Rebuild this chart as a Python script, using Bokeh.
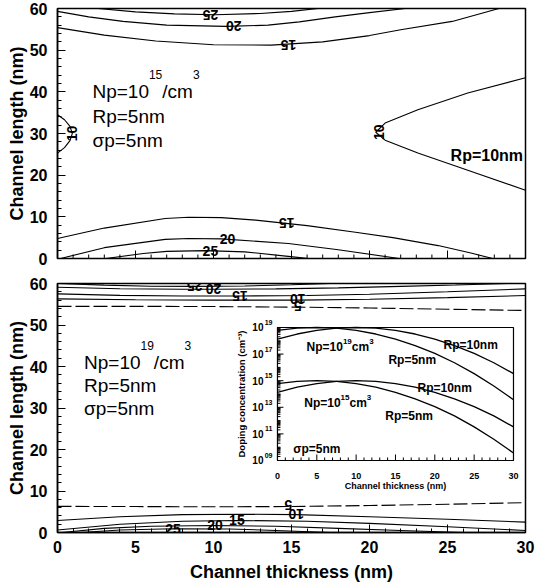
import math
from bokeh.plotting import figure
from bokeh.layouts import column
from bokeh.models import Range1d, SingleIntervalTicker
from bokeh.core.properties import value
from bokeh.embed import file_html
from bokeh.resources import INLINE

FONT = "Liberation Sans"

# ---------------- axes ----------------
main_xticks = [0, 5, 10, 15, 20, 25, 30]
main_xminor = [k for k in range(31) if k % 5]

# ---------------- upper panel (Np = 1e15 /cm3) contour lines ----------------
t25_x = [2.6, 5.0, 7.5, 10.1, 13.0, 15.0, 16.7]
t25_y = [60.0, 59.2, 58.7, 58.5, 58.8, 59.3, 60.0]
t20_x = [0.0, 2.0, 4.2, 7.0, 10.8, 13.5, 15.5, 17.8, 20.0, 22.3]
t20_y = [59.3, 58.0, 56.9, 56.0, 55.7, 56.0, 56.8, 58.0, 59.0, 60.0]
t15_x = [0.0, 3.0, 6.3, 10.0, 13.7, 17.0, 20.0, 22.0, 25.3, 28.3]
t15_y = [55.4, 53.6, 52.2, 51.3, 51.2, 52.0, 53.5, 54.9, 56.9, 60.0]
t10a_x = [0.0, 0.45, 0.8, 0.95, 0.8, 0.45, 0.0]
t10a_y = [34.5, 33.3, 31.7, 30.0, 28.3, 26.6, 25.3]
t10b_x = [30.0, 26.3, 23.1, 21.0, 20.4, 21.0, 23.1, 26.3, 30.0]
t10b_y = [43.4, 39.7, 35.7, 32.5, 30.3, 28.4, 25.3, 21.2, 16.4]
b15_x = [0.0, 3.0, 6.9, 8.4, 10.5, 12.7, 16.0, 19.1, 21.5, 24.4, 26.5, 27.9]
b15_y = [4.8, 7.3, 9.6, 9.9, 9.8, 9.2, 7.9, 6.3, 5.0, 3.1, 1.3, 0.0]
b20_x = [0.2, 3.0, 6.9, 8.4, 10.5, 14.8, 18.0, 21.9]
b20_y = [0.0, 2.6, 4.6, 4.8, 4.7, 3.6, 2.1, 0.0]
b25_x = [3.1, 5.5, 7.0, 9.5, 12.0, 14.8, 16.1]
b25_y = [0.0, 1.2, 1.7, 1.9, 1.6, 0.5, 0.0]
top_lbl_x = [9.8, 11.3, 14.8, 0.95, 20.6, 14.7, 10.9, 9.8]
top_lbl_y = [58.5, 55.7, 51.3, 30.0, 30.3, 8.6, 4.8, 1.7]
top_lbl_t = ["25", "20", "15", "10", "10", "15", "20", "25"]
top_lbl_a = [math.pi, math.pi, math.pi, math.pi / 2, math.pi / 2, math.pi, 0, 0]

# ---------------- lower panel (Np = 1e19 /cm3) contour lines ----------------
u25_x = [0.0, 3.0, 6.0, 8.8, 12.0, 15.0, 17.5]
u25_y = [60.0, 59.6, 59.35, 59.3, 59.4, 59.7, 60.0]
u20_x = [0.0, 4.0, 8.0, 10.0, 14.0, 18.0, 22.0, 25.5, 28.9]
u20_y = [59.1, 58.75, 58.6, 58.6, 58.7, 58.95, 59.3, 59.65, 60.0]
u15_x = [0.0, 4.0, 8.0, 11.7, 16.0, 20.0, 25.0, 30.0]
u15_y = [57.5, 57.15, 57.0, 57.0, 57.1, 57.4, 58.0, 58.7]
u10_x = [0.0, 5.0, 10.0, 15.4, 20.0, 25.0, 30.0]
u10_y = [56.3, 56.1, 56.0, 56.0, 56.2, 56.6, 57.1]
u5_x = [0.0, 5.0, 10.0, 15.4, 20.0, 25.0, 30.0]
u5_y = [54.5, 54.5, 54.45, 54.3, 54.1, 53.8, 53.5]
d5_x = [0.0, 5.0, 10.0, 14.8, 20.0, 25.0, 30.0]
d5_y = [6.3, 6.25, 6.2, 6.25, 6.5, 6.8, 7.2]
d10_x = [0.0, 4.0, 8.0, 12.0, 15.3, 20.0, 25.0, 30.0]
d10_y = [2.9, 3.8, 4.3, 4.4, 4.3, 3.8, 3.2, 2.5]
d15_x = [0.0, 4.0, 8.0, 11.5, 16.0, 20.0, 25.0, 30.0]
d15_y = [0.6, 2.0, 2.7, 2.9, 2.7, 2.2, 1.4, 0.5]
d20_x = [0.3, 3.0, 6.0, 10.0, 14.0, 18.0, 22.0, 26.0]
d20_y = [0.0, 1.0, 1.5, 1.7, 1.5, 1.0, 0.5, 0.0]
d25_x = [1.5, 4.0, 7.4, 11.0, 14.0, 17.5]
d25_y = [0.0, 0.6, 0.9, 0.85, 0.5, 0.0]
bot_lbl_x = [8.8, 10.0, 11.7, 15.4, 15.4, 15.3, 14.8, 11.5, 10.1, 7.4]
bot_lbl_y = [59.4, 58.6, 57.1, 56.3, 54.6, 4.4, 6.6, 3.1, 1.7, 0.9]
bot_lbl_t = ["25", "20", "15", "10", "5", "10", "5", "15", "20", "25"]
bot_lbl_a = [math.pi, math.pi, math.pi, math.pi, math.pi, math.pi, math.pi, 0, 0, 0]

# ---------------- inset: doping profiles (log10 of concentration) ----------------
ins_x = [0, 2.5, 5, 7.5, 10, 12.5, 15, 17.5, 20, 22.5, 25, 27.5, 30]
n19_rp5 = [18.78, 18.95, 19.0, 18.95, 18.78, 18.51, 18.13, 17.64, 17.05, 16.35, 15.53, 14.6, 13.57]
n19_rp10 = [18.13, 18.51, 18.78, 18.95, 19.0, 18.95, 18.78, 18.51, 18.13, 17.64, 17.05, 16.35, 15.53]
n15_rp5 = [14.78, 14.95, 15.0, 14.95, 14.78, 14.51, 14.13, 13.64, 13.05, 12.35, 11.53, 10.6, 9.57]
n15_rp10 = [14.13, 14.51, 14.78, 14.95, 15.0, 14.95, 14.78, 14.51, 14.13, 13.64, 13.05, 12.35, 11.53]
ins_xticks = [0, 5, 10, 15, 20, 25, 30]
ins_xminor = [k for k in range(31) if k % 5]
ins_ydec = [9, 11, 13, 15, 17, 19]
ins_ylabels = ["09", "11", "13", "15", "17", "19"]
ins_yminor = [d + math.log10(k) for d in range(9, 19) for k in range(2, 10)] + [10, 12, 14, 16, 18]

# ---------------- layout constants ----------------
W = 536
LEFT, RIGHT = 57, 11
FRAME_W = W - LEFT - RIGHT          # 468
TOP1, BOT1, H1 = 8, 10, 268         # upper frame 8..258
TOP2, BOT2, H2 = 15, 53, 317        # lower frame 283..532
FRAME_H1 = H1 - TOP1 - BOT1
FRAME_H2 = H2 - TOP2 - BOT2
INSET_X0, INSET_X1 = 14.1, 29.23
INSET_Y0, INSET_Y1 = 17.35, 49.4

W_N = {'N': .722, 'p': .556, '=': .584, '/': .278, 'c': .5, 'm': .833, 'R': .722, 'n': .556, 'σ': .6, ' ': .278}
W_B = {'N': .722, 'p': .611, '=': .584, '/': .278, 'c': .556, 'm': .889, 'R': .722, 'n': .611, 'σ': .6, ' ': .278}


def tw(s, size, bold=False):
    t = W_B if bold else W_N
    return sum(t.get(ch, .556) for ch in s) * size


def txt(p, x, y, s, size, bold=False, angle=0.0, align="left", baseline="alphabetic", xo=0, yo=0, rng=None):
    kw = {}
    if rng:
        kw = dict(x_range_name=rng[0], y_range_name=rng[1])
    p.text(x=x if isinstance(x, list) else [x], y=y if isinstance(y, list) else [y],
           text=s if isinstance(s, list) else [s],
           angle=angle, text_font=value(FONT), text_font_size=value(f"{size}px"),
           text_font_style="bold" if bold else "normal", text_align=align,
           text_baseline=baseline, x_offset=xo, y_offset=yo, text_color="black", **kw)


def np_label(p, x, y, exp, size, sup, rise, bold, tail, rng=None):
    base = "Np=10"
    txt(p, x, y, base, size, bold, rng=rng)
    o = tw(base, size, bold)
    txt(p, x, y, exp, sup, bold, xo=o, yo=-rise, rng=rng)
    o += tw(exp, sup, bold)
    txt(p, x, y, tail, size, bold, xo=o, rng=rng)
    o += tw(tail, size, bold)
    txt(p, x, y, "3", sup, bold, xo=o, yo=-rise, rng=rng)


def style_axis(ax):
    ax.major_tick_in = 8
    ax.major_tick_out = 0
    ax.minor_tick_in = 4
    ax.minor_tick_out = 0
    ax.axis_line_width = 1.5
    ax.axis_line_color = "black"
    ax.major_tick_line_color = "black"
    ax.minor_tick_line_color = "black"
    ax.major_label_text_font = FONT
    ax.major_label_text_font_style = "bold"
    ax.major_label_text_font_size = "16px"
    ax.major_label_text_color = "black"
    ax.axis_label_text_font = FONT
    ax.axis_label_text_font_style = "bold"
    ax.axis_label_text_font_size = "18px"
    ax.axis_label_text_color = "black"


def make_fig(height, top, bottom, show_x):
    p = figure(width=W, height=height, x_range=Range1d(0, 30), y_range=Range1d(0, 60),
               output_backend="svg", toolbar_location=None, title=None,
               min_border_left=LEFT, min_border_right=RIGHT, min_border_top=top, min_border_bottom=bottom)
    p.xgrid.visible = False
    p.ygrid.visible = False
    p.outline_line_color = "black"
    p.outline_line_width = 1.5
    p.outline_line_alpha = 1.0
    p.border_fill_color = "white"
    p.background_fill_color = "white"
    p.yaxis.ticker = SingleIntervalTicker(interval=10, num_minor_ticks=5)
    style_axis(p.yaxis[0])
    p.yaxis.axis_label = "Channel length (nm)"
    p.yaxis.major_label_standoff = 10
    p.yaxis.axis_label_standoff = 0
    if show_x:
        p.xaxis.ticker = SingleIntervalTicker(interval=5, num_minor_ticks=5)
        style_axis(p.xaxis[0])
        p.xaxis.axis_label = "Channel thickness (nm)"
        p.xaxis.major_label_standoff = 8
        p.xaxis.axis_label_standoff = 6
    else:
        p.xaxis.visible = False
    return p


LW = 1.1

# ---------------- upper figure ----------------
p1 = make_fig(H1, TOP1, BOT1, False)
py1 = 60.0 / FRAME_H1
p1.segment(x0=main_xticks, y0=[0] * len(main_xticks), x1=main_xticks,
           y1=[8 * py1] * len(main_xticks), line_color="black", line_width=1)
p1.segment(x0=main_xminor, y0=[0] * len(main_xminor), x1=main_xminor,
           y1=[4 * py1] * len(main_xminor), line_color="black", line_width=1)
p1.multi_line(xs=[t25_x, t20_x, t15_x, t10a_x, t10b_x, b15_x, b20_x, b25_x],
              ys=[t25_y, t20_y, t15_y, t10a_y, t10b_y, b15_y, b20_y, b25_y],
              line_color="black", line_width=LW)
p1.text(x=top_lbl_x, y=top_lbl_y, text=top_lbl_t, angle=top_lbl_a, text_font=value(FONT),
        text_font_size=value("14px"), text_font_style="bold", text_align="center",
        text_baseline="middle", text_color="black")
np_label(p1, 2.24, 40.0, "15", 19, 12, 17, False, "/cm")
txt(p1, 2.24, 34.0, "Rp=5nm", 19)
txt(p1, 2.24, 28.4, "σp=5nm", 19)
txt(p1, 25.2, 24.8, "Rp=10nm", 16, bold=True)

# ---------------- lower figure ----------------
p2 = make_fig(H2, TOP2, BOT2, True)
p2.multi_line(xs=[u25_x, u20_x, u15_x, u10_x, d10_x, d15_x, d20_x, d25_x],
              ys=[u25_y, u20_y, u15_y, u10_y, d10_y, d15_y, d20_y, d25_y],
              line_color="black", line_width=LW)
p2.multi_line(xs=[u5_x, d5_x], ys=[u5_y, d5_y], line_color="black", line_width=LW, line_dash="14 4")
p2.text(x=bot_lbl_x, y=bot_lbl_y, text=bot_lbl_t, angle=bot_lbl_a, text_font=value(FONT),
        text_font_size=value("14px"), text_font_style="bold", text_align="center",
        text_baseline="middle", text_color="black")
np_label(p2, 1.7, 41.0, "19", 19, 12, 17, False, "/cm")
txt(p2, 1.7, 35.4, "Rp=5nm", 19)
txt(p2, 1.7, 29.9, "σp=5nm", 19)

# inset ranges mapped onto a sub-rectangle of the lower frame
kx = 30.0 / (INSET_X1 - INSET_X0)
ix_start = -INSET_X0 * kx
ix_end = ix_start + 30.0 * kx
ky = 10.0 / (INSET_Y1 - INSET_Y0)
iy_start = 9.0 - INSET_Y0 * ky
iy_end = iy_start + 60.0 * ky
p2.extra_x_ranges = {"ix": Range1d(ix_start, ix_end)}
p2.extra_y_ranges = {"iy": Range1d(iy_start, iy_end)}
ux = (ix_end - ix_start) / FRAME_W
uy = (iy_end - iy_start) / FRAME_H2
R = ("ix", "iy")
RK = dict(x_range_name="ix", y_range_name="iy")

p2.quad(left=[0], right=[30], bottom=[9], top=[19], fill_color="white", line_color=None, **RK)
p2.multi_line(xs=[ins_x] * 4, ys=[n19_rp5, n19_rp10, n15_rp5, n15_rp10],
              line_color="black", line_width=1.3, **RK)
# inset ticks
p2.segment(x0=ins_xticks, y0=[9] * len(ins_xticks), x1=ins_xticks,
           y1=[9 + 6 * uy] * len(ins_xticks), line_color="black", line_width=1, **RK)
p2.segment(x0=ins_xminor, y0=[9] * len(ins_xminor), x1=ins_xminor,
           y1=[9 + 3 * uy] * len(ins_xminor), line_color="black", line_width=1, **RK)
p2.segment(x0=[0] * len(ins_ydec), y0=ins_ydec, x1=[6 * ux] * len(ins_ydec), y1=ins_ydec,
           line_color="black", line_width=1, **RK)
p2.segment(x0=[0] * len(ins_yminor), y0=ins_yminor, x1=[3 * ux] * len(ins_yminor), y1=ins_yminor,
           line_color="black", line_width=1, **RK)
p2.quad(left=[0], right=[30], bottom=[9], top=[19], fill_color=None, line_color="black",
        line_width=1.2, **RK)
# inset tick labels
txt(p2, ins_xticks, [9] * len(ins_xticks), [str(v) for v in ins_xticks], 9, True,
    align="center", baseline="middle", yo=16, rng=R)
txt(p2, [0] * len(ins_ydec), ins_ydec, ["10"] * len(ins_ydec), 10, True,
    align="right", baseline="middle", xo=-14, rng=R)
txt(p2, [0] * len(ins_ydec), ins_ydec, ins_ylabels, 7, True,
    align="right", baseline="middle", xo=-5, yo=-5, rng=R)
txt(p2, 15, 9, "Channel thickness (nm)", 9, True, align="center", baseline="middle", yo=26, rng=R)
txt(p2, 0, 14, "Doping concentration (cm⁻³)", 9.5, True, angle=math.pi / 2,
    align="center", baseline="middle", xo=-36, rng=R)
# inset annotations
np_label(p2, 3.7, 17.5, "19", 12, 8, 6, True, "cm", rng=R)
np_label(p2, 3.4, 13.29, "15", 12, 8, 6, True, "cm", rng=R)
txt(p2, 21.1, 17.72, "Rp=10nm", 12, True, rng=R)
txt(p2, 14.1, 16.56, "Rp=5nm", 12, True, rng=R)
txt(p2, 17.8, 14.45, "Rp=10nm", 12, True, rng=R)
txt(p2, 13.7, 12.38, "Rp=5nm", 12, True, rng=R)
txt(p2, 2.0, 9.83, "σp=5nm", 12, True, rng=R)

layout = column(p1, p2)
open("out.html", "w").write(file_html(layout, INLINE))
